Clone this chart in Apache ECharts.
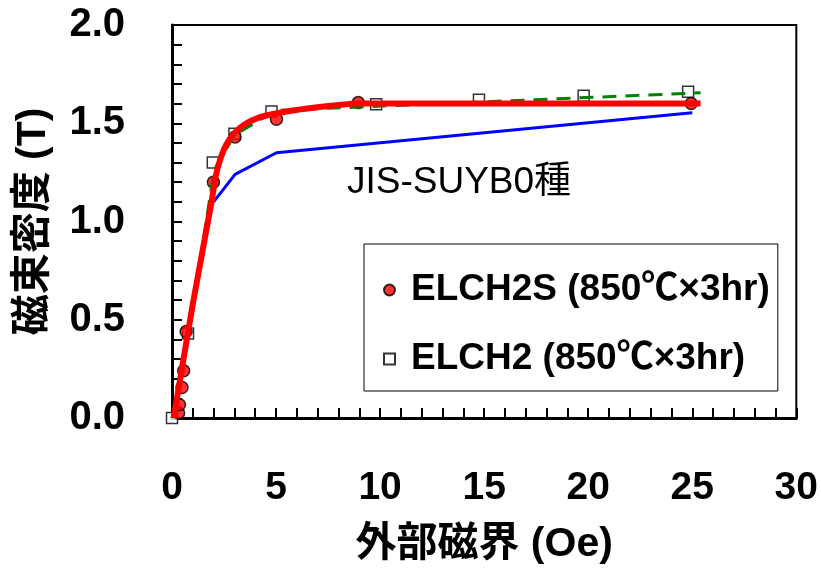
<!DOCTYPE html>
<html><head><meta charset="utf-8">
<script src="https://cdn.jsdelivr.net/npm/echarts@6/dist/echarts.min.js"></script>
<style>html,body{margin:0;padding:0;background:#fff}#c{width:821px;height:570px}</style>
</head><body><div id="c"></div><script>
// ELCH2S measured points (red circles)
const elch2sH = [0.32, 0.36, 0.48, 0.56, 0.68, 1.99, 3.03, 5.02, 8.95, 24.95];
const elch2sB = [0.025, 0.067, 0.155, 0.24, 0.44, 1.20, 1.43, 1.52, 1.605, 1.60];
// ELCH2 measured points (open squares)
const elch2H = [0, 0.77, 1.96, 3.0, 4.78, 9.81, 14.75, 19.78, 24.8];
const elch2B = [0, 0.43, 1.30, 1.447, 1.56, 1.597, 1.62, 1.64, 1.66];
// fitted curve for ELCH2S (thick red)
const redFitH = [0.08, 1.0, 1.9, 2.1, 2.3, 2.6, 3.0, 3.5, 4.2, 5.0, 6.5, 9.0, 25.4];
const redFitB = [0, 0.58, 1.10, 1.23, 1.31, 1.39, 1.45, 1.495, 1.53, 1.55, 1.575, 1.60, 1.60];
// fitted line for ELCH2 (green dashed)
const greenFitH = [0, 0.8, 2.02, 3.0, 5.0, 25.4];
const greenFitB = [0, 0.42, 1.26, 1.44, 1.565, 1.655];
// JIS-SUYB0 reference (blue)
const jisH = [2.0, 3.03, 5.02, 25.0];
const jisB = [1.10, 1.24, 1.35, 1.553];

const xTicks = [0, 5, 10, 15, 20, 25, 30];
const yTicks = [0.0, 0.5, 1.0, 1.5, 2.0];
const nameS = 'ELCH2S (850℃×3hr)';
const name2 = 'ELCH2 (850℃×3hr)';
const jisLabel = 'JIS-SUYB0種';

const zip = (a, b) => a.map((v, i) => [v, b[i]]);
const FONT = "'Liberation Sans', Arial, 'Noto Sans CJK JP', sans-serif";

const chart = echarts.init(document.getElementById('c'), null, {renderer: 'canvas'});
chart.setOption({
  animation: false,
  backgroundColor: '#fff',
  textStyle: {fontFamily: FONT},
  grid: {left: 172, top: 25, right: 22, bottom: 145, show: true, borderColor: '#000', borderWidth: 2},
  legend: {
    data: [nameS, name2],
    orient: 'vertical',
    left: 364, top: 244,
    backgroundColor: '#fff', borderColor: '#000', borderWidth: 1,
    padding: [26, 8, 12, 19],
    itemWidth: 11, itemHeight: 11, itemGap: 29,
    textStyle: {fontFamily: FONT, fontSize: 37, fontWeight: 'bold', color: '#000', lineHeight: 40, padding: [0, 0, 0, 11]}
  },
  xAxis: {
    type: 'value', min: 0, max: 30, interval: 5,
    name: '外部磁界 (Oe)', nameLocation: 'middle', nameGap: 106,
    nameTextStyle: {fontFamily: FONT, fontSize: 41, fontWeight: 'bold', color: '#000'},
    axisLine: {show: true, onZero: false, lineStyle: {color: '#000', width: 3}},
    axisTick: {show: true, inside: true, length: 10, lineStyle: {color: '#000', width: 2}},
    minorTick: {show: true, splitNumber: 5, length: 10, lineStyle: {color: '#000', width: 2}},
    splitLine: {show: false},
    axisLabel: {margin: 51, fontFamily: FONT, fontSize: 39, fontWeight: 'bold', color: '#000',
      formatter: v => xTicks.includes(v) ? String(v) : ''}
  },
  yAxis: {
    type: 'value', min: 0, max: 2, interval: 0.5,
    name: '磁束密度 (T)', nameLocation: 'middle', nameGap: 118, nameRotate: 90,
    nameTextStyle: {fontFamily: FONT, fontSize: 41, fontWeight: 'bold', color: '#000'},
    axisLine: {show: true, onZero: false, lineStyle: {color: '#000', width: 3}},
    axisTick: {show: true, inside: true, length: 10, lineStyle: {color: '#000', width: 2}},
    minorTick: {show: true, splitNumber: 5, length: 10, lineStyle: {color: '#000', width: 2}},
    splitLine: {show: false},
    axisLabel: {margin: 47, fontFamily: FONT, fontSize: 40, fontWeight: 'bold', color: '#000',
      formatter: v => yTicks.includes(v) ? v.toFixed(1) : ''}
  },
  graphic: [{
    type: 'text', left: 347, top: 164, z: 10,
    style: {text: jisLabel, font: "37px " + FONT, fill: '#000'}
  }],
  series: [
    {name: name2, type: 'scatter', data: zip(elch2H, elch2B), symbol: 'rect', symbolSize: 11, z: 2,
      itemStyle: {color: '#fff', borderColor: '#000', borderWidth: 1.5}},
    {name: nameS, type: 'scatter', data: zip(elch2sH, elch2sB), symbol: 'circle', symbolSize: 12, z: 3,
      itemStyle: {color: '#ff0000', borderColor: '#000', borderWidth: 1.5}},
    {name: 'fit2', type: 'line', data: zip(greenFitH, greenFitB), showSymbol: false, symbol: 'none', z: 4,
      lineStyle: {color: '#008000', width: 3, type: [14, 9]}},
    {name: 'JIS', type: 'line', data: zip(jisH, jisB), showSymbol: false, symbol: 'none', z: 4,
      lineStyle: {color: '#0000ff', width: 3}},
    {name: 'fitS', type: 'line', data: zip(redFitH, redFitB), showSymbol: false, symbol: 'none', z: 5,
      smooth: 0.2, lineStyle: {color: '#ff0000', width: 6}}
  ]
});
</script></body></html>
